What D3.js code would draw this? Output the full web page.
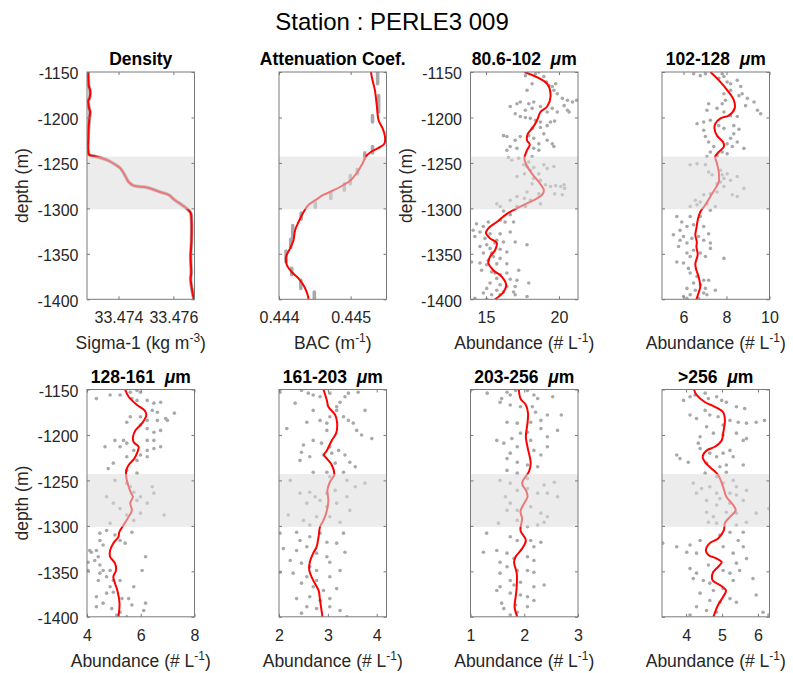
<!DOCTYPE html>
<html>
<head>
<meta charset="utf-8">
<script src="https://cdn.jsdelivr.net/npm/d3@7"></script>
<style>
  body { margin: 0; background: #fff; }
  svg { font-family: "Liberation Sans", Arial, Helvetica, sans-serif; }
</style>
</head>
<body>
<svg id="chart" width="793" height="673"></svg>
<script>
// depth profiles at station PERLE3 009

var depthTicks = [-1150, -1200, -1250, -1300, -1350, -1400];
var bandDepths = [-1243, -1301];

// [depth, value] pairs
var densityFit = [[-1150,33.47289],[-1166,33.47292],[-1170,33.47296],[-1179,33.47294],[-1182,33.47289],[-1190,33.47293],[-1194,33.47296],[-1203,33.47293],[-1225,33.47289],[-1236,33.47289],[-1241,33.47293],[-1243,33.47317],[-1247,33.47359],[-1252,33.47389],[-1256,33.47407],[-1263,33.47422],[-1271,33.47437],[-1275,33.47455],[-1277,33.47504],[-1282,33.47552],[-1285,33.47582],[-1291,33.47606],[-1296,33.4763],[-1300,33.47648],[-1305,33.47663],[-1313,33.47666],[-1335,33.47666],[-1353,33.47663],[-1371,33.47665],[-1378,33.47663],[-1393,33.4767],[-1400,33.47675]];

var attFit = [[-1150,0.445282],[-1159,0.445305],[-1170,0.445338],[-1188,0.445366],[-1203,0.44539],[-1212,0.445446],[-1221,0.445479],[-1229,0.44547],[-1234,0.445376],[-1238,0.445282],[-1243,0.445211],[-1251,0.445164],[-1260,0.445094],[-1269,0.445],[-1274,0.444906],[-1280,0.444765],[-1285,0.444624],[-1291,0.444507],[-1296,0.444413],[-1304,0.444343],[-1315,0.444272],[-1324,0.444225],[-1335,0.444202],[-1344,0.444155],[-1353,0.444099],[-1362,0.444108],[-1370,0.444178],[-1377,0.444272],[-1386,0.444352],[-1395,0.444399],[-1400,0.444413]];
// [top depth, bottom depth, value] runs of raw BAC samples
var attRaw = [[-1150,-1163,0.445376],[-1176,-1194,0.44539],[-1198,-1205,0.445305],[-1232,-1239,0.445305],[-1239,-1245,0.445197],[-1257,-1262,0.445094],[-1264,-1273,0.444995],[-1273,-1280,0.444911],[-1283,-1289,0.444723],[-1294,-1299,0.444507],[-1305,-1312,0.44431],[-1319,-1332,0.444192],[-1334,-1343,0.444164],[-1347,-1359,0.444099],[-1366,-1373,0.444178],[-1379,-1388,0.444305],[-1392,-1400,0.444493]];

var fit1 = [[-1150,17.63],[-1163,19.19],[-1177,19.42],[-1188,19.19],[-1194,18.73],[-1203,18.5],[-1212,18.16],[-1218,17.86],[-1225,17.81],[-1230,18.0],[-1236,17.81],[-1245,17.63],[-1252,17.76],[-1262,18.16],[-1271,18.62],[-1280,18.96],[-1285,18.85],[-1291,18.27],[-1298,17.35],[-1306,16.43],[-1315,15.74],[-1322,15.16],[-1327,15.0],[-1333,15.28],[-1338,15.74],[-1346,15.62],[-1353,15.28],[-1360,15.16],[-1368,15.5],[-1375,16.08],[-1384,16.38],[-1392,16.2],[-1400,15.62]];
var pts1 = [[-1154,17.70],[-1152,18.39],[-1150,18.62],[-1155,18.96],[-1161,19.15],[-1165,19.31],[-1166,19.54],[-1170,19.65],[-1174,19.88],[-1179,20.23],[-1181,20.58],[-1183,20.92],[-1181,21.2],[-1187,20.35],[-1163,19.77],[-1163,18.16],[-1170,17.81],[-1183,17.35],[-1185,17.93],[-1183,18.27],[-1185,17.12],[-1192,17.70],[-1190,18.16],[-1188,18.73],[-1194,19.19],[-1190,19.54],[-1194,19.88],[-1192,20.58],[-1194,20.69],[-1188,16.66],[-1196,17.00],[-1199,17.35],[-1200,17.70],[-1201,18.04],[-1203,18.39],[-1205,18.73],[-1205,19.42],[-1204,19.70],[-1209,19.19],[-1211,18.73],[-1212,18.16],[-1220,16.20],[-1221,16.43],[-1225,17.00],[-1221,17.35],[-1220,17.93],[-1223,18.27],[-1218,18.96],[-1225,19.19],[-1229,19.54],[-1229,18.62],[-1236,16.43],[-1232,16.66],[-1234,17.12],[-1234,18.27],[-1236,18.62],[-1232,19.65],[-1243,18.16],[-1244,16.54],[-1247,16.77],[-1245,17.24],[-1249,17.93],[-1252,17.58],[-1254,17.81],[-1258,18.04],[-1255,18.27],[-1252,18.96],[-1256,19.19],[-1254,19.65],[-1262,18.62],[-1265,17.12],[-1262,17.63],[-1267,18.27],[-1269,18.73],[-1274,19.08],[-1276,19.42],[-1275,19.77],[-1276,20.12],[-1274,20.35],[-1278,20.39],[-1273,18.16],[-1282,17.81],[-1284,18.62],[-1284,19.70],[-1285,20.23],[-1287,17.12],[-1291,16.66],[-1289,17.63],[-1291,18.04],[-1298,17.12],[-1298,17.70],[-1295,18.73],[-1295,15.74],[-1298,15.97],[-1303,16.20],[-1307,16.66],[-1315,16.31],[-1315,16.89],[-1313,15.97],[-1315,15.16],[-1320,14.82],[-1317,14.35],[-1324,14.12],[-1326,14.59],[-1331,14.24],[-1333,14.93],[-1328,15.28],[-1328,15.97],[-1326,16.66],[-1335,15.74],[-1337,16.20],[-1338,15.62],[-1337,17.00],[-1340,17.81],[-1340,15.05],[-1342,14.59],[-1344,15.28],[-1345,15.97],[-1348,16.43],[-1349,14.82],[-1349,15.39],[-1353,15.51],[-1355,15.97],[-1357,15.16],[-1359,14.01],[-1360,14.59],[-1362,15.05],[-1361,15.74],[-1361,16.43],[-1368,17.24],[-1368,14.70],[-1370,15.39],[-1371,15.62],[-1373,15.97],[-1371,16.43],[-1377,15.74],[-1378,16.66],[-1379,17.12],[-1382,17.93],[-1382,15.28],[-1384,15.97],[-1386,16.43],[-1386,17.00],[-1388,15.05],[-1390,15.74],[-1392,16.20],[-1392,16.89],[-1393,14.82],[-1395,15.39],[-1395,15.97],[-1399,14.24],[-1400,15.05],[-1397,17.81],[-1395,17.00]];

var fit2 = [[-1150,7.25],[-1159,7.64],[-1170,8.03],[-1181,8.34],[-1190,8.38],[-1198,8.1],[-1201,7.72],[-1207,7.48],[-1212,7.44],[-1220,7.56],[-1227,7.84],[-1232,7.88],[-1238,7.64],[-1243,7.48],[-1251,7.56],[-1260,7.64],[-1271,7.64],[-1278,7.48],[-1287,7.25],[-1296,7.02],[-1304,6.78],[-1313,6.66],[-1322,6.6],[-1329,6.55],[-1337,6.62],[-1342,6.6],[-1351,6.66],[-1361,6.55],[-1368,6.6],[-1375,6.7],[-1386,6.78],[-1393,6.7],[-1400,6.6]];
var pts2 = [[-1152,6.47],[-1154,6.78],[-1152,7.02],[-1152,7.80],[-1155,7.88],[-1157,7.64],[-1161,8.03],[-1163,8.19],[-1159,8.50],[-1166,8.66],[-1176,8.58],[-1174,8.73],[-1179,8.97],[-1183,9.28],[-1187,8.89],[-1192,9.44],[-1196,9.59],[-1170,8.19],[-1174,7.88],[-1181,7.95],[-1185,7.80],[-1185,7.17],[-1192,7.09],[-1190,7.56],[-1194,7.88],[-1198,8.19],[-1199,8.50],[-1207,6.63],[-1205,6.94],[-1203,7.25],[-1209,7.64],[-1212,7.88],[-1209,8.34],[-1213,8.58],[-1214,6.94],[-1221,7.02],[-1227,7.17],[-1218,8.34],[-1223,8.19],[-1227,8.50],[-1232,8.27],[-1229,8.03],[-1232,7.41],[-1238,7.25],[-1238,7.80],[-1240,8.03],[-1234,8.81],[-1243,7.09],[-1242,7.56],[-1251,6.63],[-1252,6.31],[-1252,7.02],[-1260,7.17],[-1263,7.33],[-1258,7.72],[-1263,7.80],[-1262,8.03],[-1267,7.88],[-1271,7.72],[-1273,7.56],[-1269,8.19],[-1265,8.50],[-1278,8.81],[-1285,8.27],[-1287,8.50],[-1276,7.88],[-1282,7.56],[-1284,7.25],[-1285,6.94],[-1291,6.55],[-1293,6.78],[-1295,7.09],[-1296,6.63],[-1298,7.48],[-1302,7.25],[-1298,6.31],[-1309,5.69],[-1315,5.92],[-1309,6.31],[-1309,6.78],[-1318,6.47],[-1320,6.16],[-1320,6.94],[-1328,7.17],[-1324,5.84],[-1329,5.53],[-1331,6.00],[-1333,6.39],[-1331,6.70],[-1335,6.94],[-1338,7.25],[-1344,7.25],[-1335,5.84],[-1338,6.16],[-1342,5.77],[-1346,6.47],[-1349,6.16],[-1353,6.31],[-1349,6.78],[-1353,7.02],[-1355,7.88],[-1359,5.69],[-1360,6.00],[-1366,6.23],[-1371,6.31],[-1375,6.63],[-1379,6.94],[-1379,7.17],[-1382,6.47],[-1384,6.78],[-1388,6.16],[-1390,6.55],[-1388,7.02],[-1390,7.48],[-1395,6.31],[-1393,6.94],[-1397,6.00],[-1399,6.16],[-1399,6.70],[-1395,7.09]];

var fit3 = [[-1150,5.42],[-1158,5.55],[-1167,5.86],[-1173,6.14],[-1178,6.21],[-1187,6.05],[-1195,5.8],[-1202,5.71],[-1208,5.74],[-1213,5.92],[-1220,5.86],[-1226,5.76],[-1233,5.55],[-1239,5.46],[-1246,5.46],[-1253,5.51],[-1264,5.64],[-1268,5.71],[-1275,5.61],[-1283,5.67],[-1290,5.55],[-1299,5.36],[-1307,5.2],[-1312,5.17],[-1319,4.98],[-1327,4.86],[-1334,4.86],[-1341,5.04],[-1349,5.08],[-1356,4.98],[-1363,5.04],[-1371,5.13],[-1385,5.21],[-1400,5.17]];
var pts3 = [[-1160,4.35],[-1156,4.86],[-1156,5.23],[-1153,5.61],[-1151,5.86],[-1153,5.99],[-1160,5.67],[-1162,5.86],[-1162,6.24],[-1165,6.49],[-1164,6.74],[-1173,6.43],[-1175,6.62],[-1176,7.25],[-1182,6.93],[-1184,6.99],[-1184,6.62],[-1184,6.24],[-1180,5.99],[-1180,5.61],[-1186,5.48],[-1189,5.99],[-1193,6.24],[-1197,6.49],[-1195,6.74],[-1206,6.24],[-1206,6.49],[-1213,6.74],[-1215,6.49],[-1217,6.24],[-1222,5.99],[-1217,5.74],[-1209,5.48],[-1206,5.36],[-1213,5.23],[-1206,5.04],[-1213,4.67],[-1224,5.48],[-1224,6.24],[-1228,5.86],[-1231,4.98],[-1237,4.79],[-1239,5.48],[-1242,5.86],[-1250,5.04],[-1253,5.48],[-1257,5.61],[-1263,5.74],[-1257,6.43],[-1264,6.49],[-1268,5.99],[-1272,5.86],[-1275,6.24],[-1288,6.87],[-1286,5.99],[-1294,5.74],[-1288,5.48],[-1281,5.23],[-1275,4.98],[-1268,4.73],[-1297,4.86],[-1308,4.48],[-1305,4.73],[-1310,5.04],[-1316,5.23],[-1319,5.42],[-1307,5.67],[-1316,4.48],[-1321,4.60],[-1327,4.35],[-1329,4.16],[-1334,4.42],[-1338,4.29],[-1343,4.48],[-1349,4.60],[-1349,4.86],[-1356,4.73],[-1352,4.48],[-1360,4.98],[-1360,5.23],[-1360,4.42],[-1367,4.86],[-1373,4.98],[-1374,4.73],[-1378,4.35],[-1380,5.30],[-1380,5.55],[-1387,5.67],[-1385,4.60],[-1389,4.35],[-1391,4.92],[-1395,5.23],[-1398,5.11],[-1400,5.48],[-1385,6.18],[-1393,6.11],[-1367,5.74],[-1349,6.05],[-1334,6.18],[-1327,4.10],[-1340,4.04],[-1349,4.04]];

var fit4 = [[-1150,2.91],[-1162,2.98],[-1169,3.01],[-1178,3.15],[-1187,3.19],[-1198,3.17],[-1206,3.08],[-1217,2.98],[-1222,2.92],[-1226,2.98],[-1233,3.08],[-1244,3.13],[-1252,3.04],[-1261,2.99],[-1272,3.01],[-1283,2.98],[-1294,2.91],[-1301,2.84],[-1312,2.81],[-1323,2.77],[-1330,2.7],[-1340,2.63],[-1349,2.62],[-1360,2.7],[-1371,2.81],[-1382,2.84],[-1400,2.89]];
var pts4 = [[-1153,2.02],[-1151,2.46],[-1154,2.60],[-1156,2.70],[-1158,2.84],[-1154,3.04],[-1158,3.35],[-1154,3.42],[-1153,3.62],[-1164,3.25],[-1169,3.18],[-1165,2.33],[-1186,2.57],[-1193,2.16],[-1173,2.70],[-1184,2.84],[-1187,2.98],[-1180,3.04],[-1173,3.18],[-1180,3.32],[-1184,3.42],[-1187,3.52],[-1195,3.59],[-1200,3.69],[-1173,3.76],[-1204,3.90],[-1195,2.98],[-1206,2.70],[-1209,2.87],[-1213,3.04],[-1217,3.22],[-1222,3.35],[-1230,3.45],[-1235,3.56],[-1211,2.50],[-1219,2.46],[-1228,2.43],[-1224,2.63],[-1222,2.91],[-1220,3.08],[-1231,3.15],[-1241,2.98],[-1241,2.70],[-1246,3.04],[-1241,3.32],[-1250,3.39],[-1257,3.56],[-1253,3.76],[-1250,2.23],[-1264,2.43],[-1263,2.63],[-1268,2.74],[-1264,2.98],[-1261,3.15],[-1268,3.39],[-1275,2.57],[-1272,2.84],[-1279,2.98],[-1275,3.18],[-1283,3.45],[-1288,2.19],[-1294,2.50],[-1299,2.63],[-1290,2.77],[-1290,3.04],[-1296,3.25],[-1307,2.36],[-1308,2.02],[-1316,2.43],[-1312,2.63],[-1308,2.84],[-1318,2.98],[-1319,3.18],[-1308,3.32],[-1329,3.35],[-1327,2.36],[-1323,2.57],[-1330,2.77],[-1334,2.98],[-1338,2.23],[-1341,2.46],[-1345,2.63],[-1349,2.77],[-1340,3.04],[-1349,3.25],[-1352,2.29],[-1356,2.57],[-1360,2.77],[-1356,3.04],[-1363,2.46],[-1367,2.70],[-1371,2.91],[-1369,3.18],[-1380,2.36],[-1378,2.63],[-1382,2.84],[-1380,3.04],[-1389,2.57],[-1391,2.77],[-1389,3.04],[-1393,3.25],[-1400,3.39],[-1396,2.46],[-1351,2.02],[-1325,2.09]];

var fit5 = [[-1150,1.9],[-1160,1.93],[-1167,2.03],[-1176,2.07],[-1187,2.06],[-1202,2.03],[-1213,2.06],[-1231,2.12],[-1240,2.09],[-1253,1.96],[-1262,2.04],[-1268,2.06],[-1275,2.0],[-1284,1.93],[-1292,1.96],[-1305,1.93],[-1316,2.03],[-1325,1.96],[-1334,1.84],[-1340,1.81],[-1352,1.86],[-1367,1.86],[-1378,1.84],[-1389,1.82],[-1400,1.87]];
var pts5 = [[-1154,1.31],[-1153,1.68],[-1160,1.58],[-1156,1.74],[-1151,1.84],[-1151,2.06],[-1156,2.18],[-1160,2.25],[-1158,2.53],[-1164,1.55],[-1167,1.74],[-1169,1.93],[-1169,2.15],[-1175,2.21],[-1178,2.43],[-1178,2.69],[-1184,2.31],[-1186,1.68],[-1187,1.87],[-1186,2.12],[-1193,2.31],[-1195,2.62],[-1202,2.43],[-1197,2.06],[-1198,1.93],[-1204,1.77],[-1206,1.49],[-1209,1.62],[-1213,1.87],[-1206,2.12],[-1217,2.18],[-1222,2.31],[-1213,2.43],[-1220,1.74],[-1226,1.68],[-1230,1.87],[-1233,2.06],[-1235,2.25],[-1239,1.68],[-1242,1.87],[-1250,1.55],[-1253,1.74],[-1248,2.06],[-1255,2.37],[-1252,2.56],[-1261,1.87],[-1259,2.06],[-1264,2.25],[-1264,2.43],[-1268,2.62],[-1268,1.65],[-1275,1.74],[-1283,1.87],[-1279,2.12],[-1286,2.31],[-1290,2.43],[-1296,2.37],[-1283,1.68],[-1297,1.52],[-1294,1.87],[-1301,2.06],[-1299,2.25],[-1308,1.30],[-1312,1.74],[-1316,1.87],[-1316,2.12],[-1323,2.18],[-1318,2.31],[-1327,1.49],[-1329,1.24],[-1330,1.68],[-1336,1.81],[-1334,2.06],[-1338,2.18],[-1340,1.55],[-1345,1.68],[-1349,1.87],[-1349,2.06],[-1351,2.18],[-1352,1.55],[-1360,1.74],[-1362,1.93],[-1367,1.55],[-1365,1.81],[-1367,2.18],[-1365,2.37],[-1371,1.49],[-1374,1.74],[-1376,1.93],[-1378,2.06],[-1385,1.58],[-1387,1.84],[-1389,2.06],[-1391,1.62],[-1395,1.87],[-1398,1.74],[-1382,2.18]];

var fit6 = [[-1150,4.22],[-1156,4.29],[-1164,4.53],[-1169,4.8],[-1175,5.03],[-1184,5.08],[-1198,5.03],[-1206,4.99],[-1213,4.8],[-1217,4.57],[-1224,4.46],[-1230,4.53],[-1237,4.71],[-1244,4.89],[-1257,5.03],[-1268,5.12],[-1277,5.31],[-1283,5.38],[-1290,5.22],[-1297,5.08],[-1305,5.05],[-1314,4.89],[-1319,4.66],[-1327,4.55],[-1332,4.62],[-1336,4.85],[-1340,4.99],[-1345,4.89],[-1352,4.74],[-1360,4.74],[-1365,4.94],[-1371,5.11],[-1378,5.03],[-1387,4.89],[-1400,4.76]];
var pts6 = [[-1162,3.93],[-1158,4.11],[-1156,4.25],[-1154,4.53],[-1160,4.62],[-1158,4.85],[-1162,4.99],[-1164,5.12],[-1169,5.40],[-1171,5.63],[-1178,4.11],[-1182,4.29],[-1173,4.53],[-1178,4.66],[-1180,4.89],[-1189,5.03],[-1184,5.22],[-1186,5.45],[-1187,5.68],[-1186,5.95],[-1184,6.18],[-1191,4.57],[-1198,4.76],[-1200,5.03],[-1198,5.40],[-1204,5.68],[-1206,5.59],[-1202,4.39],[-1209,4.34],[-1215,4.39],[-1220,4.66],[-1224,4.85],[-1220,5.03],[-1217,5.22],[-1224,5.31],[-1222,3.74],[-1226,3.83],[-1230,4.06],[-1231,4.57],[-1235,4.94],[-1233,5.12],[-1233,5.59],[-1242,4.53],[-1246,4.85],[-1241,5.12],[-1250,5.31],[-1253,4.20],[-1259,4.43],[-1257,4.66],[-1253,5.03],[-1257,5.40],[-1261,5.68],[-1264,4.29],[-1264,4.85],[-1270,4.94],[-1264,5.22],[-1266,5.40],[-1272,4.57],[-1277,4.85],[-1275,5.22],[-1272,5.59],[-1286,5.95],[-1281,6.3],[-1285,4.57],[-1290,4.76],[-1285,5.12],[-1286,5.40],[-1296,4.62],[-1297,4.85],[-1299,5.40],[-1296,5.68],[-1307,5.22],[-1307,5.59],[-1319,3.35],[-1323,3.74],[-1321,4.11],[-1316,4.39],[-1310,4.94],[-1316,5.45],[-1323,5.59],[-1329,4.02],[-1330,4.29],[-1323,5.03],[-1330,5.31],[-1336,5.68],[-1341,5.40],[-1347,4.11],[-1352,4.29],[-1343,4.62],[-1349,5.03],[-1352,5.22],[-1349,5.49],[-1358,4.20],[-1360,4.48],[-1363,4.66],[-1360,5.31],[-1358,5.86],[-1369,5.03],[-1371,4.76],[-1374,4.39],[-1382,4.66],[-1384,4.94],[-1380,5.22],[-1384,5.40],[-1376,5.95],[-1389,4.29],[-1393,4.57],[-1395,4.85],[-1398,4.11],[-1395,6.14],[-1398,6.3]];

var panels = [
  {title: "Density", mu: false, xlim: [33.47285, 33.47677], ticks: [33.474, 33.476], fmt: ".3f",
   label: ["Sigma-1 (kg m", "-3", ")"], fit: densityFit, halo: true, yLabels: true},
  {title: "Attenuation Coef.", mu: false, xlim: [0.444, 0.4455], ticks: [0.444, 0.445], fmt: ".3f",
   label: ["BAC (m", "-1", ")"], fit: attFit, raw: attRaw, yLabels: false},
  {title: "80.6-102  ", mu: true, xlim: [13.94, 21.3], ticks: [15, 20], fmt: "d",
   label: ["Abundance (# L", "-1", ")"], fit: fit1, pts: pts1, yLabels: true},
  {title: "102-128  ", mu: true, xlim: [5, 10], ticks: [6, 8, 10], fmt: "d",
   label: ["Abundance (# L", "-1", ")"], fit: fit2, pts: pts2, yLabels: false},
  {title: "128-161  ", mu: true, xlim: [4, 8], ticks: [4, 6, 8], fmt: "d",
   label: ["Abundance (# L", "-1", ")"], fit: fit3, pts: pts3, yLabels: true},
  {title: "161-203  ", mu: true, xlim: [2, 4.2], ticks: [2, 3, 4], fmt: "d",
   label: ["Abundance (# L", "-1", ")"], fit: fit4, pts: pts4, yLabels: false},
  {title: "203-256  ", mu: true, xlim: [1, 3], ticks: [1, 2, 3], fmt: "d",
   label: ["Abundance (# L", "-1", ")"], fit: fit5, pts: pts5, yLabels: false},
  {title: ">256  ", mu: true, xlim: [3.33, 6.32], ticks: [4, 5, 6], fmt: "d",
   label: ["Abundance (# L", "-1", ")"], fit: fit6, pts: pts6, yLabels: false}
];

var svg = d3.select("#chart");
var colX = [87, 279, 470.5, 662];
var rowY = [72, 389.5];
var pw = 107.5, ph = 227.3;
var axisCol = "#7a7a7a", textCol = "#262626";

// plain hyphen minus like matlab
function plainNum(f) {
  return function(d) { return f(d).replace("\u2212", "-"); };
}

svg.append("text")
   .attr("x", 392).attr("y", 30)
   .attr("text-anchor", "middle")
   .attr("font-size", 24)
   .attr("fill", "#000")
   .text("Station : PERLE3 009");

panels.forEach(function(p, i) {
  var left = colX[i % 4], top = rowY[Math.floor(i / 4)];
  var g = svg.append("g").attr("transform", "translate(" + left + "," + top + ")");

  var x = d3.scaleLinear().domain(p.xlim).range([0, pw]);
  var y = d3.scaleLinear().domain([-1150, -1400]).range([0, ph]);

  var clipId = "clip" + i;
  g.append("clipPath").attr("id", clipId)
   .append("rect").attr("width", pw).attr("height", ph);

  var plot = g.append("g").attr("clip-path", "url(#" + clipId + ")");

  // raw samples
  if (p.pts) {
    plot.selectAll("circle").data(p.pts).enter().append("circle")
        .attr("cx", function(d) { return x(d[1]); })
        .attr("cy", function(d) { return y(d[0]); })
        .attr("r", 1.8)
        .attr("fill", "#a9a9a9");
  }
  if (p.raw) {
    plot.selectAll("line.raw").data(p.raw).enter().append("line")
        .attr("class", "raw")
        .attr("x1", function(d) { return x(d[2]); })
        .attr("x2", function(d) { return x(d[2]); })
        .attr("y1", function(d) { return y(d[0]); })
        .attr("y2", function(d) { return y(d[1]); })
        .attr("stroke", "#a9a9a9")
        .attr("stroke-width", 3.6)
        .attr("stroke-linecap", "round");
  }

  var line = d3.line()
      .x(function(d) { return x(d[1]); })
      .y(function(d) { return y(d[0]); })
      .curve(d3.curveCatmullRom.alpha(0.5));

  if (p.halo) {
    plot.append("path").datum(p.fit)
        .attr("d", line)
        .attr("fill", "none")
        .attr("stroke", "#a9a9a9")
        .attr("stroke-width", 3.5);
  }
  plot.append("path").datum(p.fit)
      .attr("d", line)
      .attr("fill", "none")
      .attr("stroke", "#ff0000")
      .attr("stroke-width", 2);

  // shaded layer drawn over the data
  g.append("rect")
   .attr("x", 0).attr("width", pw)
   .attr("y", y(bandDepths[0]))
   .attr("height", y(bandDepths[1]) - y(bandDepths[0]))
   .attr("fill", "#dcdcdc")
   .attr("fill-opacity", 0.55);

  // axes, ticks inward on all four sides
  var fmt = d3.format(p.fmt);
  var xb = g.append("g").attr("transform", "translate(0," + ph + ")")
      .call(d3.axisBottom(x).tickValues(p.ticks).tickFormat(fmt).tickSizeInner(-3).tickSizeOuter(0).tickPadding(12.6));
  var xt = g.append("g")
      .call(d3.axisTop(x).tickValues(p.ticks).tickFormat("").tickSizeInner(-3).tickSizeOuter(0));
  var yl = g.append("g")
      .call(d3.axisLeft(y).tickValues(depthTicks).tickFormat(p.yLabels ? plainNum(d3.format("d")) : "").tickSizeInner(-3).tickSizeOuter(0).tickPadding(8.5));
  var yr = g.append("g").attr("transform", "translate(" + pw + ",0)")
      .call(d3.axisRight(y).tickValues(depthTicks).tickFormat("").tickSizeInner(-3).tickSizeOuter(0));

  [xb, xt, yl, yr].forEach(function(a) {
    a.select(".domain").remove();
    a.selectAll("line").attr("stroke", axisCol);
    a.selectAll("text").attr("fill", textCol).attr("font-size", 16)
     .attr("font-family", "'Liberation Sans', Arial, Helvetica, sans-serif");
  });
  yl.selectAll("text").attr("dy", "0.42em");

  g.append("rect")
   .attr("width", pw).attr("height", ph)
   .attr("fill", "none")
   .attr("stroke", axisCol)
   .attr("stroke-width", 1);

  // panel title
  var t = g.append("text")
   .attr("x", pw / 2).attr("y", -7)
   .attr("text-anchor", "middle")
   .attr("font-size", 17.5)
   .attr("font-weight", "bold")
   .attr("fill", "#000")
   .attr("xml:space", "preserve")
   .style("white-space", "pre");
  t.append("tspan").text(p.title);
  if (p.mu) {
    t.append("tspan").attr("font-style", "italic").text("\u03bc");
    t.append("tspan").text("m");
  }

  // x label with superscript
  var xlab = g.append("text")
   .attr("x", pw / 2).attr("y", ph + 50)
   .attr("text-anchor", "middle")
   .attr("font-size", 17.5)
   .attr("fill", textCol);
  xlab.append("tspan").text(p.label[0]);
  xlab.append("tspan").attr("dy", -7).attr("font-size", 12).text(p.label[1]);
  xlab.append("tspan").attr("dy", 7).text(p.label[2]);

  if (p.yLabels) {
    g.append("text")
     .attr("transform", "translate(-59," + (ph / 2) + ") rotate(-90)")
     .attr("text-anchor", "middle")
     .attr("font-size", 17.5)
     .attr("fill", textCol)
     .text("depth (m)");
  }
});
</script>
</body>
</html>
